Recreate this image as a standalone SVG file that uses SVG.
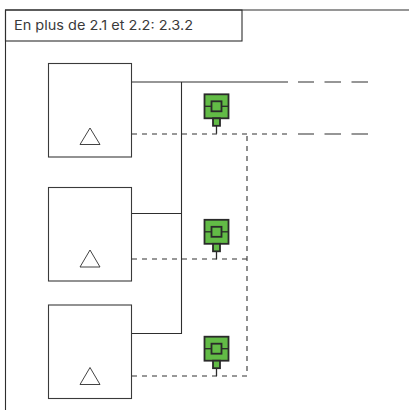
<svg xmlns="http://www.w3.org/2000/svg" width="409" height="410" viewBox="0 0 409 410">
<style>
.l{fill:none;stroke:#2e2e2e;stroke-width:1.100}
.b{fill:#fff;stroke:#3a3a3a;stroke-width:1.100}
.t{fill:#fff;stroke:#2e2e2e;stroke-width:.9}
.d{fill:none;stroke:#333;stroke-width:1.100;stroke-dasharray:5 5}
.g{fill:#62bb46;stroke:#2a2a2a;stroke-width:1.800}
.w{fill:none;stroke:#2a2a2a;stroke-width:1.300}
</style>
<defs>
<g id="sensor">
<line class="w" x1="0" y1="19" x2="0" y2="27.500"/>
<rect class="g" x="-12" y="-12" width="24" height="24"/>
<line class="w" x1="-12" y1="0" x2="12" y2="0"/>
<rect class="g" x="-5" y="-5" width="10" height="10"/>
<rect class="g" x="-3.500" y="12" width="7" height="7.500"/>
</g>
</defs>
<g id="frame">
<path class="l" d="M409 10H5.500V410"/>
<rect class="l" x="5.500" y="10" width="236.500" height="31"/>
<text x="14" y="29.500" font-family="Inter,'Noto Sans',sans-serif" font-size="13" fill="#3a3a3a" textLength="179" lengthAdjust="spacingAndGlyphs">En plus de 2.1 et 2.2: 2.3.2</text>
</g>
<g id="connectors">
<path class="l" d="M132 82H288M132 213.500H181.500M132 333.500H181.500V82"/>
<path class="l" d="M298 82H314M324.500 82H341M351.500 82H368"/>
<path class="l" d="M298 134H314M324.500 134H341M351.500 134H368"/>
<path class="d" d="M132 134H288"/>
<path class="d" d="M132 259H247"/>
<path class="d" d="M132 376H247V134"/>
</g>
<g id="node-1"><rect class="b" x="48.500" y="63.500" width="83" height="93.500"/><path class="t" d="M90 128L100 144.500H80Z"/></g>
<g id="node-2"><rect class="b" x="48.500" y="187.500" width="83" height="93.500"/><path class="t" d="M90 250L100 267H80Z"/></g>
<g id="node-3"><rect class="b" x="48.500" y="305" width="83" height="93.500"/><path class="t" d="M90 367.500L100 384.500H80Z"/></g>
<g id="sensor-1"><use href="#sensor" x="216.500" y="106.300"/></g>
<g id="sensor-2"><use href="#sensor" x="216.500" y="231.800"/></g>
<g id="sensor-3"><use href="#sensor" x="216.500" y="348.700"/></g>
</svg>
